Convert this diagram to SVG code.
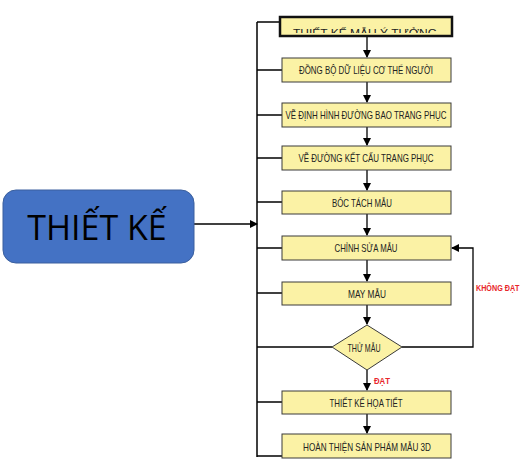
<svg xmlns="http://www.w3.org/2000/svg" width="527" height="464" viewBox="0 0 527 464">
<style>
.box{fill:#FBF2A5;stroke:#3a3a3a;stroke-width:1}
.t{font-family:"Liberation Sans Narrow","Liberation Sans",sans-serif;font-size:10.5px;fill:#222;text-anchor:middle;dominant-baseline:central}
.red{font-family:"Liberation Sans Narrow","Liberation Sans",sans-serif;font-size:9px;font-weight:bold;fill:#E8262B;dominant-baseline:central}
.ln{stroke:#000;stroke-width:1.5;fill:none}
.ar{stroke:#000;stroke-width:1.3;fill:none;marker-end:url(#ah)}
</style>
<defs>
<marker id="ah" markerWidth="8" markerHeight="8" refX="7" refY="4" orient="auto" markerUnits="userSpaceOnUse">
<path d="M0,0 L8,4 L0,8 Z" fill="#000"/>
</marker>
<clipPath id="c1"><rect x="280" y="17" width="172" height="16"/></clipPath>
</defs>
<rect width="527" height="464" fill="#fff"/>
<g id="connectors">
<path class="ln" d="M257,22 V457"/>
<path class="ln" d="M257,22 H281"/>
<path class="ln" d="M257,70 H282"/>
<path class="ln" d="M257,115 H282"/>
<path class="ln" d="M257,158 H282"/>
<path class="ln" d="M257,202 H282"/>
<path class="ln" d="M257,248 H282"/>
<path class="ln" d="M257,293 H282"/>
<path class="ln" d="M257,347 H332"/>
<path class="ln" d="M257,402 H282"/>
<path class="ln" d="M257,456 H282"/>
<path class="ar" d="M194,224 H257"/>
<path class="ar" d="M367,37 V57"/>
<path class="ar" d="M367,82 V102"/>
<path class="ar" d="M367,127 V145"/>
<path class="ar" d="M367,170 V190"/>
<path class="ar" d="M367,214 V235"/>
<path class="ar" d="M367,260 V281"/>
<path class="ar" d="M367,305 V324"/>
<path class="ar" d="M367,370 V390"/>
<path class="ar" d="M367,414 V433"/>
<path stroke="#000" stroke-width="1.3" fill="none" d="M402,347 H473 V248 H452" marker-end="url(#ah)"/>
<text class="red" transform="translate(476,288) scale(0.8,1)" x="0" y="0">KHÔNG ĐẠT</text>
<text class="red" x="374" y="381" textLength="16" lengthAdjust="spacingAndGlyphs">ĐẠT</text>
</g>
<g id="thiet-ke">
<rect x="3" y="190" width="191" height="73" rx="13" fill="#4472C4" stroke="#3A5F9E" stroke-width="1"/>
<text x="97" y="227" font-family="'Open Sans','Noto Sans',sans-serif" font-size="34" fill="#000" text-anchor="middle" dominant-baseline="central">THIẾT KẾ</text>
</g>
<g id="n1">
<rect x="280" y="17" width="172" height="19" fill="#FBF2A5" stroke="#111" stroke-width="2.5"/>
<text class="t" x="365" y="33" font-size="12" dominant-baseline="auto" clip-path="url(#c1)" textLength="144" lengthAdjust="spacingAndGlyphs">THIẾT KẾ MẪU Ý TƯỞNG</text>
</g>
<g id="n2">
<rect class="box" x="282" y="58" width="169" height="24"/>
<text class="t" x="366" y="70" textLength="134" lengthAdjust="spacingAndGlyphs">ĐỒNG BỘ DỮ LIỆU CƠ THỂ NGƯỜI</text>
</g>
<g id="n3">
<rect class="box" x="282" y="103" width="169" height="24"/>
<text class="t" x="366" y="115" textLength="161" lengthAdjust="spacingAndGlyphs">VẼ ĐỊNH HÌNH ĐƯỜNG BAO TRANG PHỤC</text>
</g>
<g id="n4">
<rect class="box" x="282" y="146" width="169" height="24"/>
<text class="t" x="366" y="158" textLength="135" lengthAdjust="spacingAndGlyphs">VẼ ĐƯỜNG KẾT CẤU TRANG PHỤC</text>
</g>
<g id="n5">
<rect class="box" x="282" y="191" width="169" height="23"/>
<text class="t" x="362" y="203" textLength="60" lengthAdjust="spacingAndGlyphs">BÓC TÁCH MẪU</text>
</g>
<g id="n6">
<rect class="box" x="282" y="236" width="169" height="24"/>
<text class="t" x="366" y="248" textLength="63" lengthAdjust="spacingAndGlyphs">CHỈNH SỬA MẪU</text>
</g>
<g id="n7">
<rect class="box" x="282" y="282" width="169" height="23"/>
<text class="t" x="367" y="294" textLength="38" lengthAdjust="spacingAndGlyphs">MAY MẪU</text>
</g>
<g id="n8">
<polygon class="box" points="367,325 402,347 367,370 332,347"/>
<text class="t" x="364" y="348" textLength="33" lengthAdjust="spacingAndGlyphs">THỬ MẪU</text>
</g>
<g id="n9">
<rect class="box" x="282" y="391" width="169" height="23"/>
<text class="t" x="366" y="403" textLength="73" lengthAdjust="spacingAndGlyphs">THIẾT KẾ HỌA TIẾT</text>
</g>
<g id="n10">
<rect class="box" x="282" y="434" width="169" height="24"/>
<text class="t" x="367" y="447" textLength="128" lengthAdjust="spacingAndGlyphs">HOÀN THIỆN SẢN PHẨM MẪU 3D</text>
</g>
</svg>
